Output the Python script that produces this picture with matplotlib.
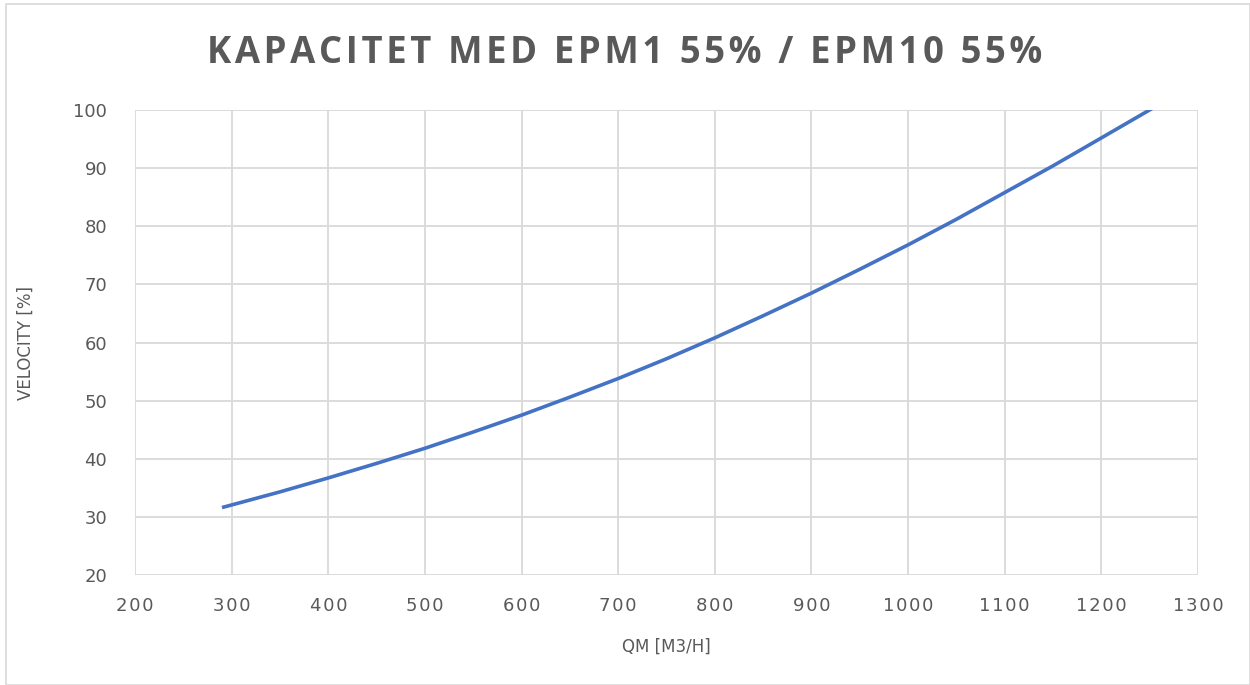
import matplotlib.pyplot as plt
from matplotlib.patches import Rectangle

# values
flow = [290, 350, 400, 450, 500, 550, 600, 650, 700, 750, 800, 850, 900, 950, 1000, 1050, 1100, 1150, 1200, 1255]
velocity = [31.6, 34.3, 36.7, 39.2, 41.8, 44.6, 47.5, 50.6, 53.8, 57.2, 60.8, 64.6, 68.5, 72.6, 76.8, 81.2, 85.8, 90.4, 95.2, 100.5]

x_ticks = list(range(200, 1301, 100))
y_ticks = list(range(20, 101, 10))
title = "KAPACITET MED EPM1 55% / EPM10 55%"

fig = plt.figure(figsize=(12.5, 6.85), dpi=100)
ax = fig.add_axes([0.108, 0.1606, 0.8504, 0.6788])

ax.plot(flow, velocity, color="#4472C4", linewidth=2.6, solid_capstyle="butt", clip_on=True)

ax.set_xlim(200, 1300)
ax.set_ylim(20, 100)
ax.set_xticks(x_ticks)
ax.set_yticks(y_ticks)
ax.set_xticklabels(["\u200a".join(str(t)) for t in x_ticks])
ax.grid(True, color="#d9d9d9", linewidth=1.3)
ax.set_axisbelow(True)
for s in ax.spines.values():
    s.set_visible(False)
ax.tick_params(length=0, labelsize=13, colors="#595959")
ax.tick_params(axis="x", pad=16)
ax.tick_params(axis="y", pad=20)

ax.set_xlabel("QM [M3/H]", fontsize=12, color="#595959", labelpad=16)
ax.set_ylabel("VELOCITY [%]", fontsize=12, color="#595959", labelpad=28)

fig.text(0.5, 0.922, "\u200a".join(title), ha="center", va="center",
         fontsize=26.3, fontweight="bold", color="#595959", family=["Open Sans", "DejaVu Sans"])

fig.patches.append(Rectangle((0.005, 0.0), 0.995, 0.994, transform=fig.transFigure,
                             fill=False, edgecolor="#d9d9d9", linewidth=1.2))

fig.savefig("out.png", dpi=100)
